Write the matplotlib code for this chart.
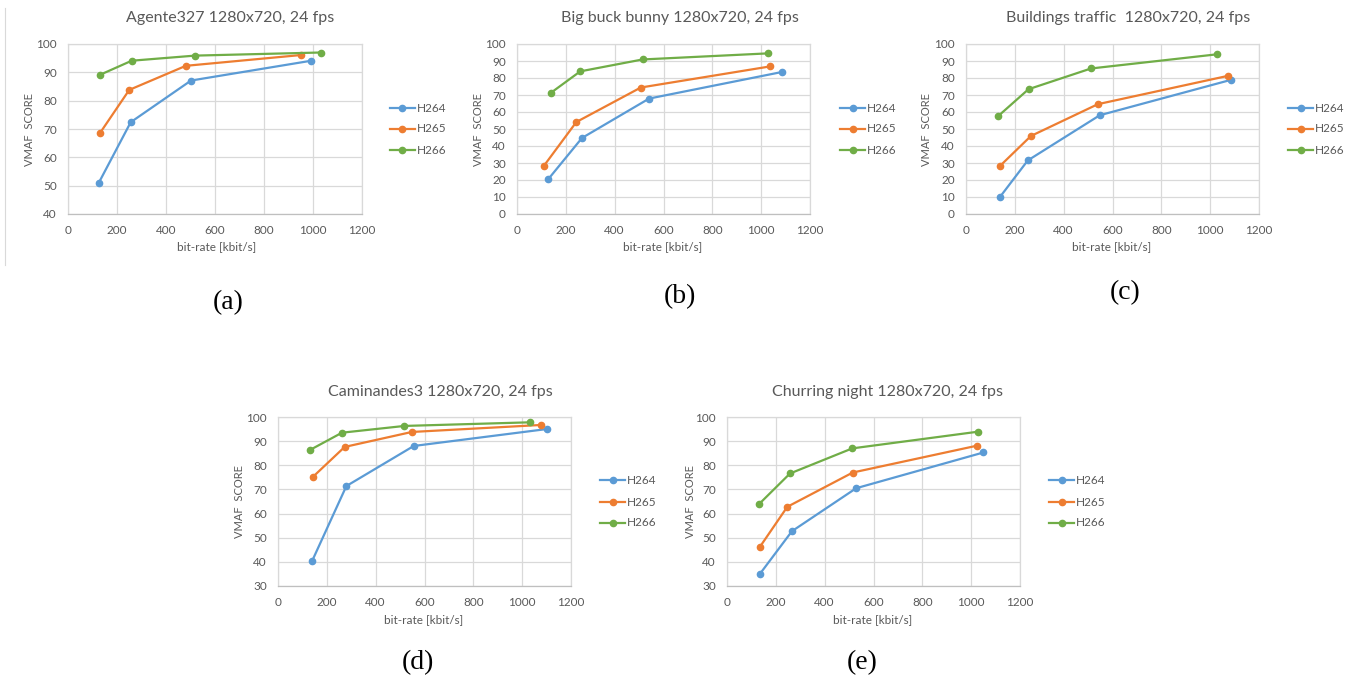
import matplotlib
matplotlib.use("Agg")
import matplotlib.pyplot as plt
from matplotlib.lines import Line2D

W, H = 1355, 689
DPI = 100

codecs = ["H264", "H265", "H266"]
colors = ["#5B9BD5", "#ED7D31", "#70AD47"]

# (a) Agente327
a_title = "Agente327 1280x720, 24 fps"
a_h264_x = [125, 256, 502, 993]
a_h264_y = [50.9, 72.4, 87.1, 94.1]
a_h265_x = [130, 250, 481, 950]
a_h265_y = [68.5, 83.8, 92.3, 96.1]
a_h266_x = [130, 260, 518, 1032]
a_h266_y = [89.1, 94.1, 95.9, 97.0]

# (b) Big buck bunny
b_title = "Big buck bunny 1280x720, 24 fps"
b_h264_x = [127, 266, 541, 1084]
b_h264_y = [20.3, 44.7, 67.9, 83.5]
b_h265_x = [109, 243, 507, 1036]
b_h265_y = [28.1, 54.1, 74.4, 86.8]
b_h266_x = [139, 259, 514, 1030]
b_h266_y = [71.3, 83.9, 90.9, 94.5]

# (c) Buildings traffic
c_title = "Buildings traffic  1280x720, 24 fps"
c_h264_x = [138, 253, 548, 1085]
c_h264_y = [9.8, 31.5, 58.1, 78.9]
c_h265_x = [138, 266, 540, 1074]
c_h265_y = [28.1, 45.9, 64.6, 81.3]
c_h266_x = [131, 256, 512, 1026]
c_h266_y = [57.5, 73.4, 85.6, 93.9]

# (d) Caminandes3
d_title = "Caminandes3 1280x720, 24 fps"
d_h264_x = [139, 280, 556, 1100]
d_h264_y = [40.2, 71.4, 88.0, 95.0]
d_h265_x = [143, 273, 548, 1077]
d_h265_y = [75.2, 87.6, 93.8, 96.7]
d_h266_x = [132, 262, 518, 1032]
d_h266_y = [86.4, 93.5, 96.3, 97.8]

# (e) Churring night
e_title = "Churring night 1280x720, 24 fps"
e_h264_x = [134, 266, 529, 1050]
e_h264_y = [34.9, 52.7, 70.5, 85.3]
e_h265_x = [134, 247, 515, 1023]
e_h265_y = [46.1, 62.8, 77.0, 88.1]
e_h266_x = [131, 258, 513, 1027]
e_h266_y = [63.9, 76.6, 87.0, 93.9]

x_ticks = [0, 200, 400, 600, 800, 1000, 1200]
xlabel = "bit-rate [kbit/s]"
ylabel = "VMAF  SCORE"
panel_labels = ["(a)", "(b)", "(c)", "(d)", "(e)"]

GRID = "#D9D9D9"
TXT = "#595959"
FONT = "Lato"

fig = plt.figure(figsize=(W / DPI, H / DPI), dpi=DPI)
fig.patch.set_facecolor("white")


def rect(l, t, r, b):
    return [l / W, 1 - b / H, (r - l) / W, (b - t) / H]


def fx(x):
    return x / W


def fy(y):
    return 1 - y / H


panels = [
    dict(title=a_title, series=[(a_h264_x, a_h264_y), (a_h265_x, a_h265_y), (a_h266_x, a_h266_y)],
         box=(68, 44, 362, 214), ylim=(40, 100), ystep=10, title_xy=(230, 18),
         ylab_x=30, xlab_xy=(217, 247), leg=(390, [108, 129, 150]), plab=(228, 303)),
    dict(title=b_title, series=[(b_h264_x, b_h264_y), (b_h265_x, b_h265_y), (b_h266_x, b_h266_y)],
         box=(517, 44, 810, 214), ylim=(0, 100), ystep=10, title_xy=(680, 18),
         ylab_x=478, xlab_xy=(663, 247), leg=(840, [108, 129, 150]), plab=(680, 297)),
    dict(title=c_title, series=[(c_h264_x, c_h264_y), (c_h265_x, c_h265_y), (c_h266_x, c_h266_y)],
         box=(966, 44, 1259, 214), ylim=(0, 100), ystep=10, title_xy=(1128, 18),
         ylab_x=927, xlab_xy=(1112, 247), leg=(1288, [108, 129, 150]), plab=(1125, 293)),
    dict(title=d_title, series=[(d_h264_x, d_h264_y), (d_h265_x, d_h265_y), (d_h266_x, d_h266_y)],
         box=(278, 417, 571, 586), ylim=(30, 100), ystep=10, title_xy=(440, 392),
         ylab_x=240, xlab_xy=(424, 620), leg=(600, [480, 502, 523]), plab=(418, 663)),
    dict(title=e_title, series=[(e_h264_x, e_h264_y), (e_h265_x, e_h265_y), (e_h266_x, e_h266_y)],
         box=(727, 417, 1020, 586), ylim=(30, 100), ystep=10, title_xy=(888, 392),
         ylab_x=690, xlab_xy=(873, 620), leg=(1049, [480, 502, 523]), plab=(862, 663)),
]

for i, p in enumerate(panels):
    l, t, r, b = p["box"]
    ax = fig.add_axes(rect(l, t, r, b))
    for (xs, ys), c, name in zip(p["series"], colors, codecs):
        ax.plot(xs, ys, color=c, lw=1.6, marker="o", ms=4.5, label=name,
                solid_capstyle="round", zorder=3)
    ax.set_xlim(0, 1200)
    ax.set_ylim(*p["ylim"])
    ax.set_xticks(x_ticks)
    ax.set_yticks(list(range(p["ylim"][0], p["ylim"][1] + 1, p["ystep"])))
    ax.grid(True, color=GRID, lw=0.9, zorder=0)
    ax.set_axisbelow(True)
    for s in ax.spines.values():
        s.set_color(GRID)
        s.set_linewidth(0.9)
    ax.spines["bottom"].set_color("#BFBFBF")
    ax.tick_params(length=0, labelsize=8.5, labelcolor=TXT, pad=8)
    for lab in ax.get_xticklabels() + ax.get_yticklabels():
        lab.set_fontfamily(FONT)
    # title
    tx, ty = p["title_xy"]
    fig.text(fx(tx), fy(ty), p["title"], ha="center", va="center",
             fontsize=11.5, color=TXT, family=FONT)
    # axis labels
    fig.text(fx(p["ylab_x"]), fy((t + b) / 2), ylabel, rotation=90, ha="center",
             va="center", fontsize=8, color=TXT, family=FONT)
    xx, xy = p["xlab_xy"]
    fig.text(fx(xx), fy(xy), xlabel, ha="center", va="center", fontsize=8.5,
             color=TXT, family=FONT)
    # legend
    lx, lys = p["leg"]
    for c, name, ly in zip(colors, codecs, lys):
        fig.add_artist(Line2D([fx(lx), fx(lx + 25)], [fy(ly), fy(ly)], color=c,
                              lw=1.6, transform=fig.transFigure))
        fig.add_artist(Line2D([fx(lx + 12.5)], [fy(ly)], color=c, marker="o",
                              ms=4.5, transform=fig.transFigure))
        fig.text(fx(lx + 27), fy(ly), name, ha="left", va="center", fontsize=8.5,
                 color=TXT, family=FONT)
    # panel label
    px, py = p["plab"]
    fig.text(fx(px), fy(py), panel_labels[i], ha="center", va="center",
             fontsize=20, color="black", family="Liberation Serif")

# thin frame line at left of first chart
fig.add_artist(Line2D([fx(5), fx(5)], [fy(8), fy(265)], color="#D9D9D9", lw=0.8,
                      transform=fig.transFigure))

fig.savefig("out.png", dpi=DPI, facecolor="white")
